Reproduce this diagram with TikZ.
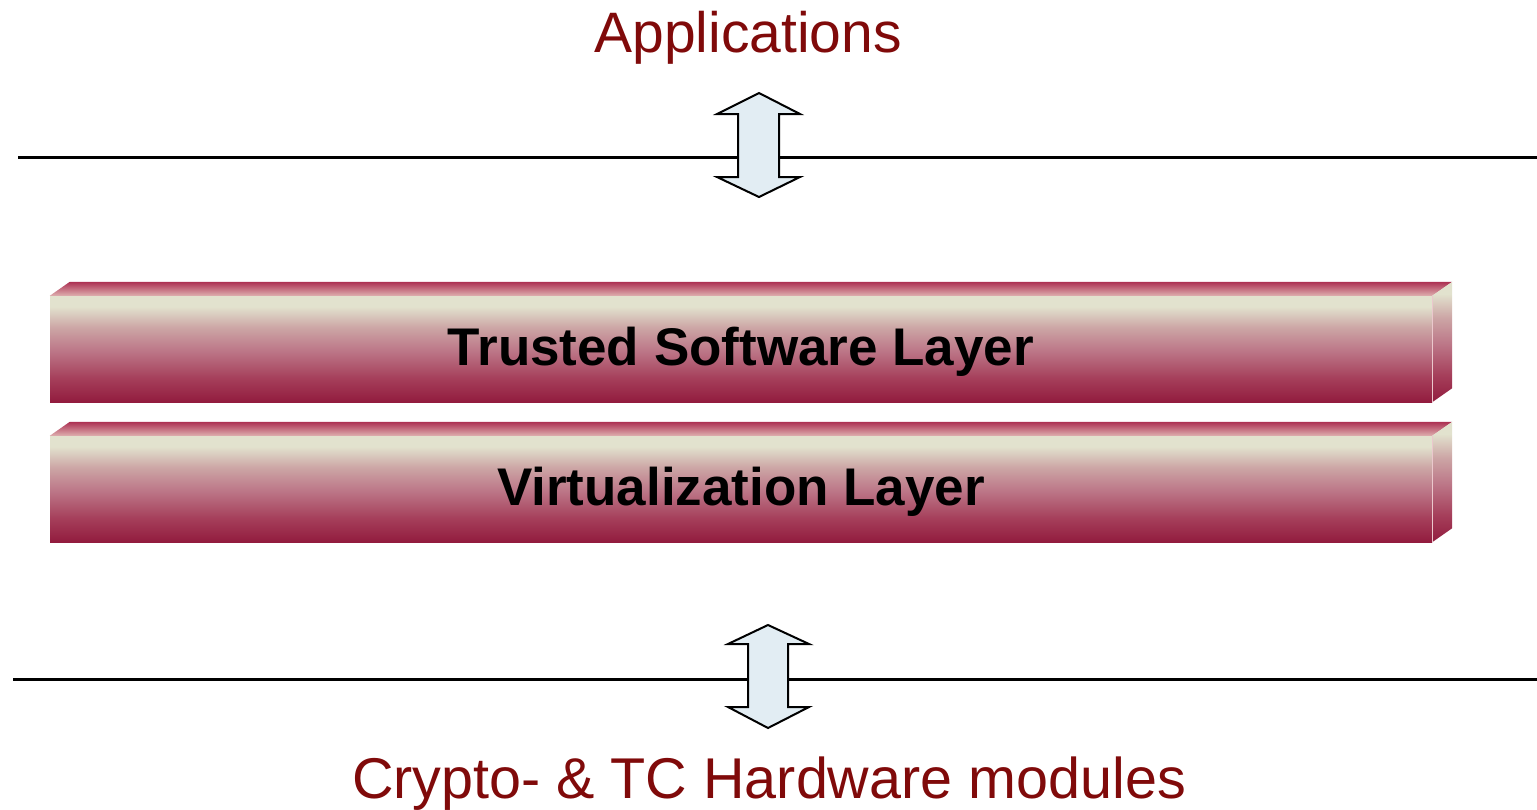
\documentclass[tikz,border=0pt]{standalone}
\usepackage{fontspec}
\setmainfont{Liberation Sans}
\definecolor{labred}{RGB}{128,10,10}
\definecolor{arrowfill}{RGB}{226,237,243}
\definecolor{sD}{RGB}{146,28,62}
\definecolor{sD2}{RGB}{165,62,90}
\definecolor{sM}{RGB}{188,118,135}
\definecolor{sM2}{RGB}{204,165,165}
\definecolor{sL}{RGB}{226,226,206}
\definecolor{tD}{RGB}{172,48,82}
\definecolor{tL}{RGB}{222,175,175}
\definecolor{hl}{RGB}{235,200,205}
\pgfdeclareverticalshading{slabfront}{100bp}{color(0bp)=(sD); color(25bp)=(sD); color(36bp)=(sD2); color(49bp)=(sM); color(60bp)=(sM2); color(70bp)=(sL); color(100bp)=(sL)}
\pgfdeclareverticalshading{slabtop}{100bp}{color(0bp)=(tL); color(25bp)=(tL); color(75bp)=(tD); color(100bp)=(tD)}
\tikzset{
  slab/.style={shading=slabfront, minimum width=1382pt, minimum height=106pt, inner sep=0pt},
  slabtext/.style={font=\fontsize{53}{60}\selectfont\bfseries, text=black, inner sep=0pt},
  lab/.style={text=labred, font=\fontsize{57}{64}\selectfont, anchor=base, inner sep=0pt},
  rule/.style={line width=3pt, black},
  dblarrow/.style={draw=black, line width=2pt, fill=arrowfill, line join=miter},
}
\begin{document}
\begin{tikzpicture}[x=1pt,y=-1pt]
\useasboundingbox (0,0) rectangle (1537,809);
% labels
\node[lab] (apps) at (748,52) {Applications};
\node[lab, font=\fontsize{57.5}{64}\selectfont] (hw) at (769,798) {Crypto- \& TC Hardware modules};
% rules
\coordinate (r1a) at (18,157);
\coordinate (r1b) at (1537,157);
\coordinate (r2a) at (13,679);
\coordinate (r2b) at (1537,679);
\draw[rule] (r1a) -- (r1b);
\draw[rule] (r2a) -- (r2b);
% arrows
\draw[dblarrow] (759,93) -- (800,114) -- (779,114) -- (779,177) -- (800,177) -- (759,197)
  -- (717,177) -- (738,177) -- (738,114) -- (717,114) -- cycle;
\draw[dblarrow] (768,625) -- (809,644) -- (788,644) -- (788,707) -- (809,707) -- (768,728)
  -- (728,707) -- (748,707) -- (748,644) -- (728,644) -- cycle;
% slabs
\foreach \nm/\yy/\txt in {tsl/349/Trusted Software Layer, vl/489/Virtualization Layer}{
  \node[slab] (\nm) at (741,\yy) {};
  \shade[shading=slabtop] (\nm.north west) -- ++(20,-14) -- ([shift={(20,-14)}]\nm.north east)
    -- (\nm.north east) -- cycle;
  \shade[shading=slabfront] (\nm.north east) -- ++(20,-14) -- ([shift={(20,-14)}]\nm.south east)
    -- (\nm.south east) -- cycle;
  \draw[hl, line width=1.2pt] (\nm.north east) -- (\nm.south east);
  \node[slabtext] (\nm-t) at ([yshift=-3pt]\nm.center) {\txt};
}
\end{tikzpicture}
\end{document}
